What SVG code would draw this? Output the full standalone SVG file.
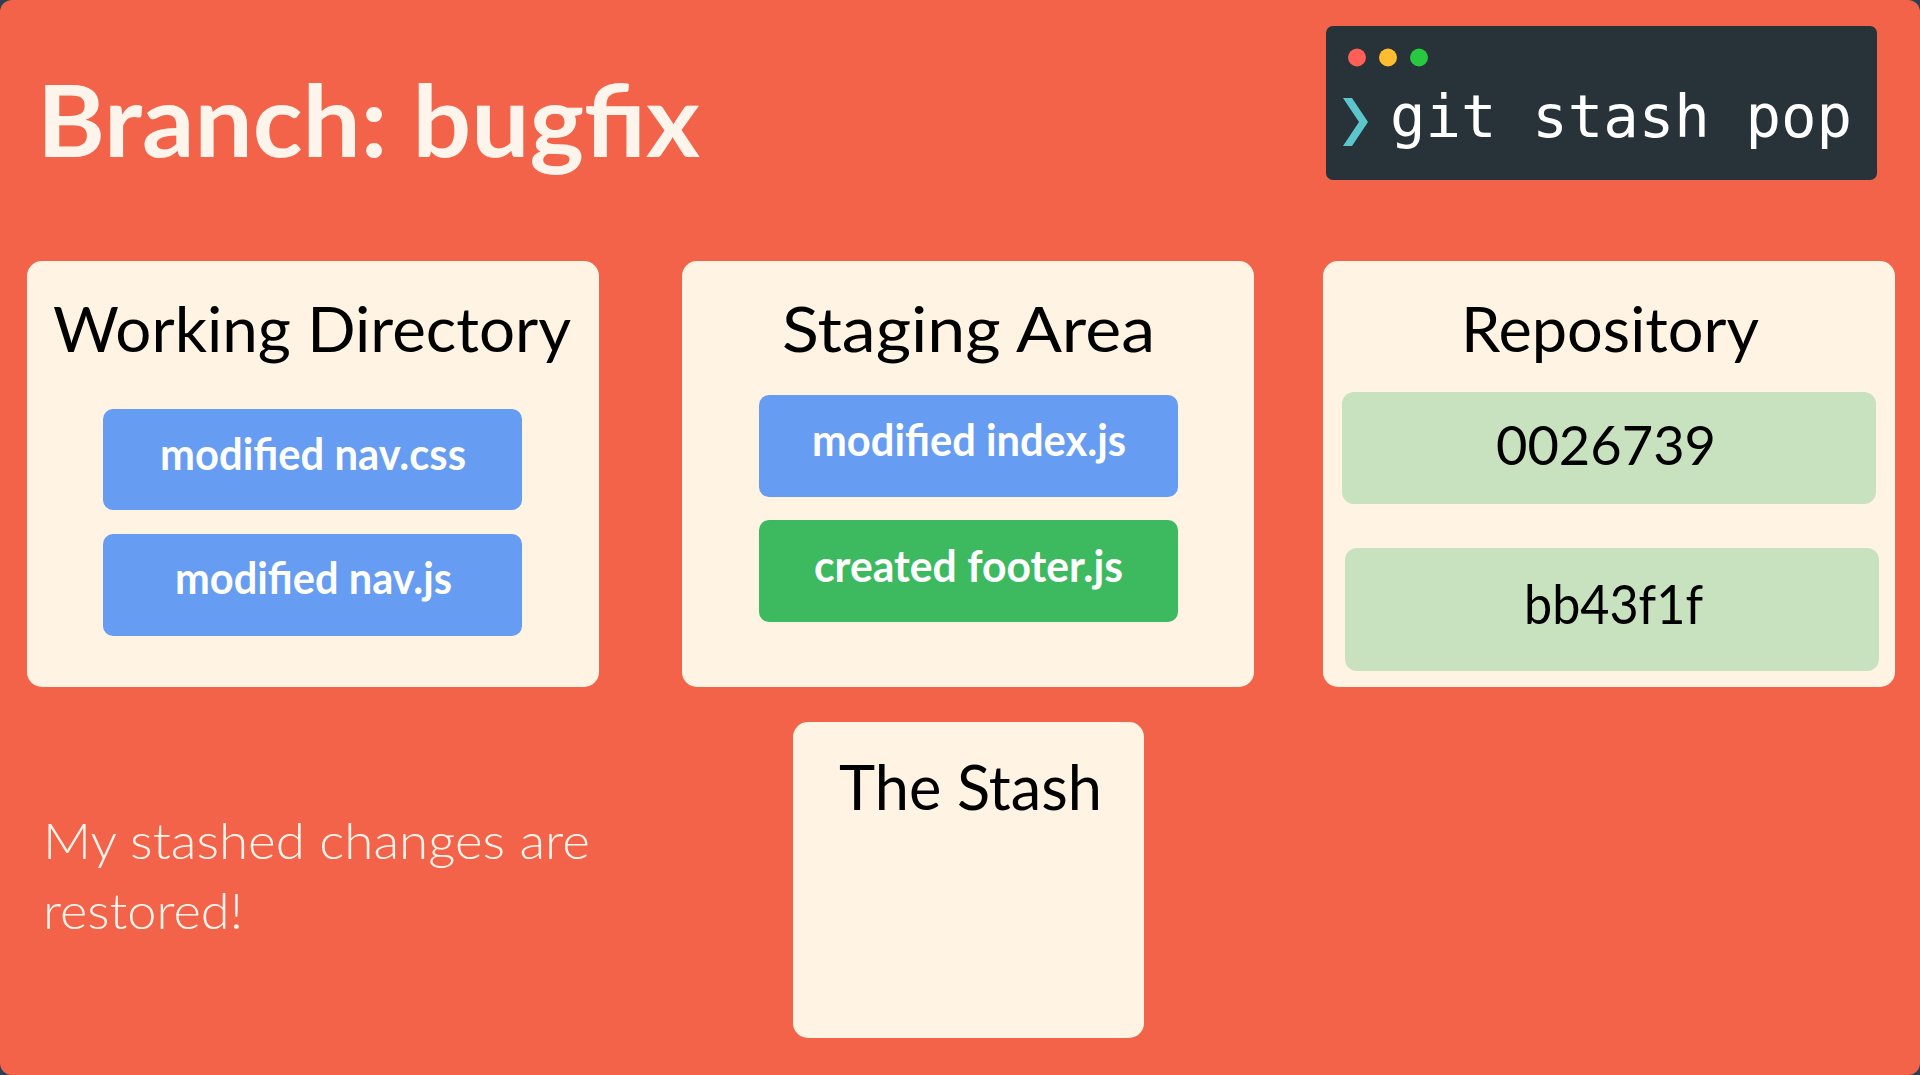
<svg xmlns="http://www.w3.org/2000/svg" width="1920" height="1075" viewBox="0 0 1920 1075">
<style>
.panel{fill:#FFF4E3}
.head{font-family:Lato,"Liberation Sans",sans-serif;font-size:62px;fill:#000}
.chip{font-family:Lato,"Liberation Sans",sans-serif;font-size:44px;font-weight:700;fill:#FFFFFF}
.blue{fill:#669CF1}
.green{fill:#3DBA5F}
.commit{fill:#C8E1BE}
.hash{font-family:Lato,"Liberation Sans",sans-serif;font-size:54px;fill:#000}
</style>
<rect x="0" y="0" width="1920" height="1075" fill="#2E3F52"/>
<rect x="0" y="0" width="1920" height="1075" rx="12" fill="#F36349"/>
<text x="37" y="157" font-family="Lato,'Liberation Sans',sans-serif" font-size="100" font-weight="700" fill="#FDF5EC" textLength="663" lengthAdjust="spacingAndGlyphs">Branch: bugfix</text>
<g id="terminal">
<rect x="1326" y="26" width="551" height="154" rx="7" fill="#273239"/>
<circle cx="1357" cy="57.5" r="9" fill="#FF5F57"/>
<circle cx="1388" cy="57.5" r="9" fill="#FEBC2E"/>
<circle cx="1419" cy="57.5" r="9" fill="#28C840"/>
<polygon points="1343,98 1352,98 1368,122 1352,146 1343,146 1359,122" fill="#5BC7CD"/>
<text x="1390" y="137" font-family="'DejaVu Sans Mono','Liberation Mono',monospace" font-size="59" fill="#FFFFFF" textLength="462" lengthAdjust="spacingAndGlyphs">git stash pop</text>
</g>
<g id="working-directory">
<rect class="panel" x="27" y="261" width="572" height="426" rx="15"/>
<text class="head" x="53" y="352" textLength="518" lengthAdjust="spacingAndGlyphs">Working Directory</text>
<g id="wd-nav-css">
<rect class="blue" x="103" y="409" width="419" height="101" rx="10"/>
<text class="chip" x="160" y="470" textLength="306" lengthAdjust="spacingAndGlyphs">modified nav.css</text>
</g>
<g id="wd-nav-js">
<rect class="blue" x="103" y="534" width="419" height="102" rx="10"/>
<text class="chip" x="175" y="594" textLength="277" lengthAdjust="spacingAndGlyphs">modified nav.js</text>
</g>
</g>
<g id="staging-area">
<rect class="panel" x="682" y="261" width="572" height="426" rx="15"/>
<text class="head" x="782" y="352" textLength="373" lengthAdjust="spacingAndGlyphs">Staging Area</text>
<g id="sa-index-js">
<rect class="blue" x="759" y="395" width="419" height="102" rx="10"/>
<text class="chip" x="812" y="456" textLength="314" lengthAdjust="spacingAndGlyphs">modified index.js</text>
</g>
<g id="sa-footer-js">
<rect class="green" x="759" y="520" width="419" height="102" rx="10"/>
<text class="chip" x="814" y="582" textLength="309" lengthAdjust="spacingAndGlyphs">created footer.js</text>
</g>
</g>
<g id="repository">
<rect class="panel" x="1323" y="261" width="572" height="426" rx="15"/>
<text class="head" x="1461" y="352" textLength="298" lengthAdjust="spacingAndGlyphs">Repository</text>
<g id="commit-0026739">
<rect class="commit" x="1342" y="392" width="534" height="112" rx="12"/>
<text class="hash" x="1496" y="465" textLength="220" lengthAdjust="spacingAndGlyphs">0026739</text>
</g>
<g id="commit-bb43f1f">
<rect class="commit" x="1345" y="548" width="534" height="123" rx="12"/>
<text class="hash" x="1524" y="624" font-size="60" textLength="179" lengthAdjust="spacingAndGlyphs">bb43f1f</text>
</g>
</g>
<g id="the-stash">
<rect class="panel" x="793" y="722" width="351" height="316" rx="15"/>
<text class="head" x="839" y="810" textLength="263" lengthAdjust="spacingAndGlyphs">The Stash</text>
</g>
<g id="note" font-family="Lato,'Liberation Sans',sans-serif" font-size="50" font-weight="300" fill="#FDF5EC">
<text x="43" y="859" textLength="547" lengthAdjust="spacingAndGlyphs">My stashed changes are</text>
<text x="43" y="929" textLength="200" lengthAdjust="spacingAndGlyphs">restored!</text>
</g>
<g id="connectors"/>
</svg>
